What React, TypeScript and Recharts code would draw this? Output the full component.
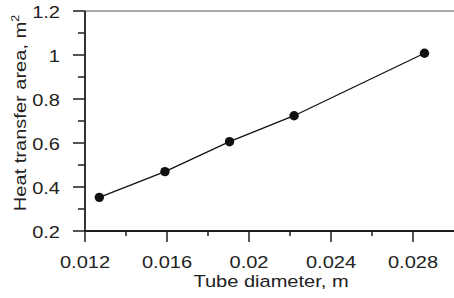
import React from 'react'
import { LineChart, Line, XAxis, YAxis, ReferenceLine } from 'recharts'

const diameters = [0.0127, 0.0159, 0.01905, 0.0222, 0.02856]
const areas = [0.353, 0.47, 0.606, 0.724, 1.008]

const xTicks = [0.012, 0.014, 0.016, 0.018, 0.02, 0.022, 0.024, 0.026, 0.028]
const xLabels: Record<string, string> = {
  '0.012': '0.012',
  '0.016': '0.016',
  '0.02': '0.02',
  '0.024': '0.024',
  '0.028': '0.028',
}
const yTicks = [0.2, 0.3, 0.4, 0.5, 0.6, 0.7, 0.8, 0.9, 1, 1.1, 1.2]
const yLabels: Record<string, string> = {
  '0.2': '0.2',
  '0.4': '0.4',
  '0.6': '0.6',
  '0.8': '0.8',
  '1': '1',
  '1.2': '1.2',
}

const data = diameters.map((d, i) => ({ d, a: areas[i] }))

const font = '"Liberation Sans", Arial, sans-serif'
const axisColor = '#1e1e1e'
const textColor = '#222'
const fontSize = 17
const stretch = 1.18

function XTick(props: any) {
  const { x, y, payload } = props
  const label = xLabels[String(payload.value)]
  return (
    <g>
      <line x1={x} y1={y} x2={x} y2={y + (label ? 11 : 5)} stroke={axisColor} strokeWidth={1.5} />
      {label && (
        <text
          transform={`translate(${x},${y + 37}) scale(${stretch},1)`}
          textAnchor="middle"
          fontSize={fontSize}
          fill={textColor}
          fontFamily={font}
        >
          {label}
        </text>
      )}
    </g>
  )
}

function YTick(props: any) {
  const { x, y, payload } = props
  const label = yLabels[String(payload.value)]
  return (
    <g>
      <line x1={x} y1={y} x2={x - (label ? 12 : 7)} y2={y} stroke={axisColor} strokeWidth={1.5} />
      {label && (
        <text
          transform={`translate(${x - 25},${y + 6.5}) scale(${stretch},1)`}
          textAnchor="end"
          fontSize={fontSize}
          fill={textColor}
          fontFamily={font}
        >
          {label}
        </text>
      )}
    </g>
  )
}

export default function App() {
  return (
    <div style={{ position: 'absolute', left: 0, top: 0, width: 454, height: 298, background: '#fff' }}>
      <LineChart
        width={454}
        height={298}
        data={data}
        margin={{ top: 11, right: 0, bottom: 0, left: 0 }}
      >
        <ReferenceLine y={1.2} stroke="#8c8c8c" strokeWidth={1.5} />
        <XAxis
          dataKey="d"
          type="number"
          domain={[0.012, 0.03]}
          ticks={xTicks}
          height={67}
          tickSize={0}
          tickMargin={0}
          tickLine={false}
          stroke={axisColor}
          strokeWidth={1.8}
          tick={<XTick />}
          interval={0}
        />
        <YAxis
          type="number"
          domain={[0.2, 1.2]}
          ticks={yTicks}
          width={85}
          tickSize={0}
          tickMargin={0}
          tickLine={false}
          stroke={axisColor}
          strokeWidth={1.8}
          tick={<YTick />}
          interval={0}
        />
        <Line
          dataKey="a"
          type="linear"
          stroke="#111"
          strokeWidth={1.3}
          dot={{ r: 4.7, fill: '#111', stroke: '#111', strokeWidth: 0 }}
          isAnimationActive={false}
        />
      </LineChart>
      <svg
        width={454}
        height={298}
        style={{ position: 'absolute', left: 0, top: 0, pointerEvents: 'none' }}
      >
        <text
          transform={`translate(271,287) scale(${stretch},1)`}
          textAnchor="middle"
          fontSize={fontSize}
          fill={textColor}
          fontFamily={font}
        >
          Tube diameter, m
        </text>
        <text
          transform={`translate(26,113) rotate(-90) scale(${stretch},1)`}
          textAnchor="middle"
          fontSize={fontSize}
          fill={textColor}
          fontFamily={font}
        >
          Heat transfer area, m
          <tspan fontSize={10.5} dy={-7}>2</tspan>
        </text>
      </svg>
    </div>
  )
}
